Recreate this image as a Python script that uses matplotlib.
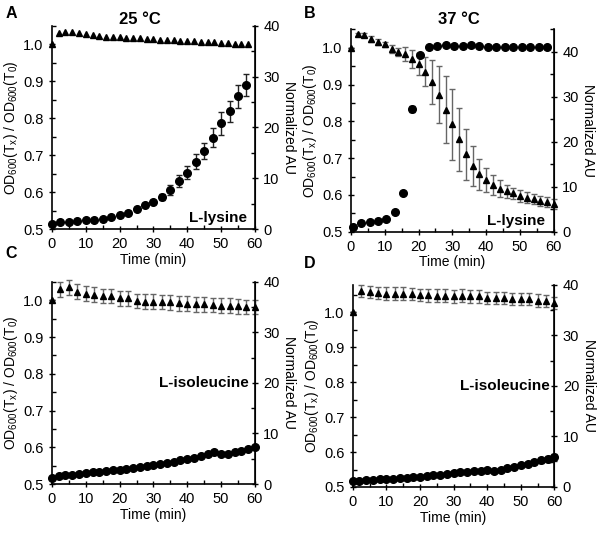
import matplotlib.pyplot as plt
from matplotlib.ticker import MultipleLocator

plt.rcParams['font.family'] = ['Liberation Sans', 'DejaVu Sans']
plt.rcParams['mathtext.fontset'] = 'custom'
plt.rcParams['mathtext.rm'] = 'Liberation Sans'
plt.rcParams['mathtext.it'] = 'Liberation Sans'
plt.rcParams['font.size'] = 10

# ---- data ----
# A: 25 C, L-lysine
a_od_t = [0, 2, 4, 6, 8, 10, 12, 14, 16, 18, 20, 22, 24, 26, 28, 30, 32, 34, 36, 38,
          40, 42, 44, 46, 48, 50, 52, 54, 56, 58]
a_od = [1.0, 1.03, 1.034, 1.034, 1.031, 1.028, 1.026, 1.023, 1.021, 1.02, 1.019, 1.018,
        1.017, 1.016, 1.015, 1.014, 1.013, 1.012, 1.011, 1.01, 1.009, 1.008, 1.007, 1.006,
        1.005, 1.004, 1.003, 1.002, 1.001, 1.0]
a_au_t = [0, 2.5, 5, 7.5, 10, 12.5, 15, 17.5, 20, 22.5, 25, 27.5, 30, 32.5, 35, 37.5,
          40, 42.5, 45, 47.5, 50, 52.5, 55, 57.5]
a_au = [1.05, 1.3, 1.4, 1.6, 1.7, 1.85, 2.0, 2.3, 2.7, 3.2, 4.0, 4.8, 5.3, 6.4, 7.7, 9.4,
        11.1, 13.3, 15.4, 18.0, 20.8, 23.2, 26.1, 28.4]
a_au_err = [0.2, 0.2, 0.2, 0.2, 0.2, 0.2, 0.2, 0.2, 0.3, 0.3, 0.3, 0.3, 0.4, 0.6, 1.0, 1.2,
            1.25, 1.5, 1.6, 1.8, 2.2, 2.1, 2.3, 2.2]

# B: 37 C, L-lysine
b_od_t = [0, 2, 4, 6, 8, 10, 12, 14, 16, 18, 20, 22, 24, 26, 28, 30, 32, 34, 36, 38,
          40, 42, 44, 46, 48, 50, 52, 54, 56, 58, 60]
b_od = [1.0, 1.037, 1.035, 1.025, 1.016, 1.009, 0.997, 0.989, 0.983, 0.969, 0.955, 0.935,
        0.908, 0.873, 0.832, 0.792, 0.751, 0.711, 0.678, 0.656, 0.64, 0.627, 0.617, 0.61,
        0.604, 0.598, 0.593, 0.589, 0.583, 0.58, 0.575]
b_od_err = [0.0, 0.004, 0.005, 0.008, 0.008, 0.008, 0.01, 0.01, 0.02, 0.024, 0.03, 0.04,
            0.06, 0.077, 0.092, 0.096, 0.086, 0.069, 0.054, 0.043, 0.032, 0.027, 0.023,
            0.018, 0.016, 0.016, 0.014, 0.014, 0.014, 0.014, 0.014]
b_au_t = [0.5, 3, 5.5, 8, 10.5, 13, 15.5, 18, 20.5, 23, 25.5, 28, 30.5, 33, 35.5, 38,
          40.5, 43, 45.5, 48, 50.5, 53, 55.5, 58]
b_au = [1.0, 1.85, 2.2, 2.45, 2.8, 4.4, 8.7, 27.3, 39.4, 41.1, 41.3, 41.5, 41.3, 41.3,
        41.5, 41.2, 41.1, 41.1, 41.1, 41.0, 41.1, 41.0, 41.0, 41.0]
b_au_err = [0.1] * 7 + [0.6] + [0.2] * 16

# C: 25 C, L-isoleucine
c_od_t = [0, 2.5, 5, 7.5, 10, 12.5, 15, 17.5, 20, 22.5, 25, 27.5, 30, 32.5, 35, 37.5,
          40, 42.5, 45, 47.5, 50, 52.5, 55, 57.5, 60]
c_od = [1.0, 1.03, 1.035, 1.023, 1.018, 1.015, 1.012, 1.012, 1.005, 1.005, 0.998, 0.996,
        0.996, 0.995, 0.994, 0.992, 0.991, 0.989, 0.989, 0.987, 0.985, 0.985, 0.984,
        0.982, 0.982]
c_od_err = [0.0] + [0.02] * 24
c_au_t = list(range(0, 61, 2))
c_au = [1.2, 1.5, 1.7, 1.85, 2.05, 2.2, 2.3, 2.45, 2.6, 2.7, 2.85, 3.0, 3.1, 3.3, 3.5,
        3.7, 4.0, 4.15, 4.35, 4.7, 4.95, 5.2, 5.6, 6.0, 6.25, 6.0, 6.0, 6.25, 6.45, 6.9,
        7.3]
c_au_err = [0.2] * 31

# D: 37 C, L-isoleucine
d_od_t = c_od_t
d_od = [1.0, 1.06, 1.058, 1.055, 1.053, 1.053, 1.053, 1.052, 1.049, 1.048, 1.047, 1.047,
        1.045, 1.047, 1.045, 1.045, 1.04, 1.04, 1.04, 1.038, 1.038, 1.037, 1.033, 1.032,
        1.026]
d_od_err = [0.0] + [0.018] * 24
d_au_t = list(range(0, 61, 2))
d_au = [1.1, 1.25, 1.3, 1.4, 1.5, 1.6, 1.65, 1.8, 1.85, 2.0, 2.05, 2.2, 2.3, 2.45, 2.65,
        2.75, 2.9, 3.0, 3.1, 3.2, 3.35, 3.15, 3.4, 3.75, 3.95, 4.3, 4.55, 4.9, 5.25, 5.6,
        5.9]
d_au_err = [0.2] * 27 + [0.4, 0.5, 0.6, 0.7]

fig = plt.figure(figsize=(6.04, 5.39), dpi=100)


def style_axis(ax, ax2):
    for a in (ax, ax2):
        a.spines['top'].set_visible(False)
        a.tick_params(which='major', length=5, width=1, labelsize=10.5)
        a.tick_params(which='minor', length=3, width=1, direction='in')
    ax.tick_params(which='major', direction='inout')
    ax2.tick_params(which='major', direction='inout')
    ax2.spines['left'].set_visible(False)
    ax2.spines['bottom'].set_visible(False)
    for s in ('left', 'bottom'):
        ax.spines[s].set_linewidth(1.2)
    ax2.spines['right'].set_linewidth(1.2)
    ax.set_xlim(0, 60)
    ax.xaxis.set_major_locator(MultipleLocator(10))
    ax.xaxis.set_minor_locator(MultipleLocator(5))
    ax.yaxis.set_major_locator(MultipleLocator(0.1))
    ax.yaxis.set_minor_locator(MultipleLocator(0.05))
    ax.yaxis.set_major_formatter(plt.FormatStrFormatter('%.1f'))
    ax2.yaxis.set_major_locator(MultipleLocator(10))
    ax2.yaxis.set_minor_locator(MultipleLocator(5))
    ax.set_xlabel('Time (min)', labelpad=1)
    ax.set_ylabel(r'OD$_{600}$(T$_{\mathrm{x}}$) / OD$_{600}$(T$_{0}$)', labelpad=2)
    ax2.set_ylabel('Normalized AU', rotation=270, labelpad=12)


panels = [
    ([0.086, 0.575, 0.336, 0.377], a_od_t, a_od, None, a_au_t, a_au, a_au_err,
     (0.5, 1.05), (0, 40), 'L-lysine', (0.96, 0.054)),
    ([0.581, 0.570, 0.336, 0.3755], b_od_t, b_od, b_od_err, b_au_t, b_au, b_au_err,
     (0.5, 1.05), (0, 45), 'L-lysine', (0.955, 0.054)),
    ([0.086, 0.102, 0.336, 0.375], c_od_t, c_od, c_od_err, c_au_t, c_au, c_au_err,
     (0.5, 1.05), (0, 40), 'L-isoleucine', (0.97, 0.5)),
    ([0.584, 0.0965, 0.334, 0.375], d_od_t, d_od, d_od_err, d_au_t, d_au, d_au_err,
     (0.5, 1.078), (0, 40), 'L-isoleucine', (0.975, 0.5)),
]

for rect, ot, od, oe, at, au, ae, ylim1, ylim2, label, lpos in panels:
    ax = fig.add_axes(rect)
    ax2 = ax.twinx()
    ax.errorbar(ot, od, yerr=oe, fmt='^', color='black', ecolor='#666666',
                elinewidth=1, capsize=2.5, markersize=5, clip_on=False, zorder=3)
    ax2.errorbar(at, au, yerr=ae, fmt='o', color='black', ecolor='#222222',
                 elinewidth=1, capsize=2.5, markersize=5.5, clip_on=False, zorder=3)
    ax.set_ylim(*ylim1)
    ax2.set_ylim(*ylim2)
    style_axis(ax, ax2)
    ax.text(lpos[0], lpos[1], label, transform=ax.transAxes, ha='right', va='center',
            fontsize=11, fontweight='bold', zorder=10)

fig.text(140 / 604, 1 - 20 / 539, '25 °C', ha='center', va='center', fontsize=12,
         fontweight='bold')
fig.text(459 / 604, 1 - 20 / 539, '37 °C', ha='center', va='center', fontsize=12,
         fontweight='bold')
for letter, x, y in [('A', 11, 14), ('B', 310, 14), ('C', 11, 254), ('D', 310, 264)]:
    fig.text(x / 604, 1 - y / 539, letter, ha='center', va='center', fontsize=11.5,
             fontweight='bold')

fig.savefig('out.png', dpi=100)
